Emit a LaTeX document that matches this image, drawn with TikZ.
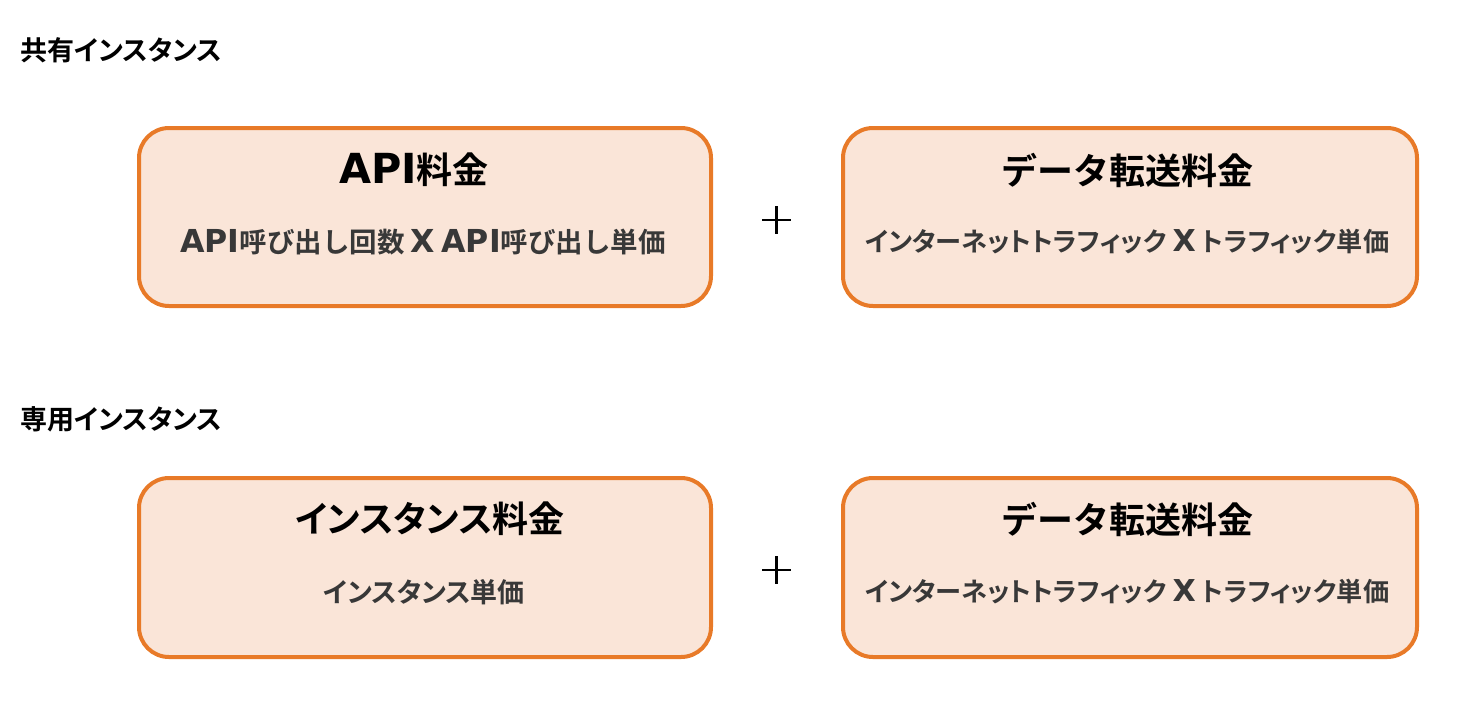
\documentclass[tikz,border=0pt]{standalone}
\usepackage{fontspec}
\newfontfamily\jpb{Noto Sans CJK JP Bold}
\newfontfamily\jpbp{Noto Sans CJK JP Bold}[RawFeature=+palt]
\newfontfamily\latb{DejaVu Sans Bold}[Scale=1.15]
\definecolor{boxorange}{HTML}{E87A28}
\definecolor{boxfill}{HTML}{FAE5D8}
\definecolor{subgray}{HTML}{383838}
\tikzset{
  costbox/.style={draw=boxorange, fill=boxfill, line width=4pt, rounded corners=30pt},
  boxtitle/.style={font=\jpb\fontsize{36}{40}\selectfont, text=black, anchor=center, inner sep=0pt},
  boxsub/.style={font=\jpbp\fontsize{27}{30}\selectfont, text=subgray, anchor=center, inner sep=0pt},
  seclabel/.style={font=\jpbp\fontsize{27}{28}\selectfont, text=black, anchor=west, inner sep=0pt},
  plussign/.style={minimum width=28pt, minimum height=27pt, inner sep=0pt},
  plusline/.style={line width=2.5pt, black}
}
\begin{document}
\begin{tikzpicture}[x=1pt,y=-1pt]
\useasboundingbox (0,0) rectangle (1464,713);
\node[seclabel] (sec1) at (20,50) {共有インスタンス};
\node[seclabel] (sec2) at (20,419) {専用インスタンス};

\draw[costbox] (139,128) rectangle (711,306);
\draw[costbox] (843,128) rectangle (1417,306);
\draw[costbox] (139,478) rectangle (711,657);
\draw[costbox] (843,478) rectangle (1417,657);

\node[boxtitle] (t1) at (414,170) {{\latb API}料金};
\node[boxsub, font=\jpb\fontsize{27.5}{30}\selectfont] (s1) at (423,242) {{\latb API}呼び出し回数 {\latb X} {\latb API}呼び出し単価};
\node[boxtitle] (t2) at (1127,170) {データ転送料金};
\node[boxsub, font=\jpbp\fontsize{26.2}{30}\selectfont] (s2) at (1127,242) {インターネットトラフィック {\latb X} トラフィック単価};
\node[boxtitle, font=\jpbp\fontsize{36}{40}\selectfont] (t3) at (430,519) {インスタンス料金};
\node[boxsub] (s3) at (424,592) {インスタンス単価};
\node[boxtitle] (t4) at (1127,519) {データ転送料金};
\node[boxsub, font=\jpbp\fontsize{26.2}{30}\selectfont] (s4) at (1127,592) {インターネットトラフィック {\latb X} トラフィック単価};

\node[plussign] (p1) at (776.5,220) {};
\node[plussign] (p2) at (776.5,570) {};
\draw[plusline] (p1.west) -- (p1.east);
\draw[plusline] (p1.north) -- (p1.south);
\draw[plusline] (p2.west) -- (p2.east);
\draw[plusline] (p2.north) -- (p2.south);
\end{tikzpicture}
\end{document}
